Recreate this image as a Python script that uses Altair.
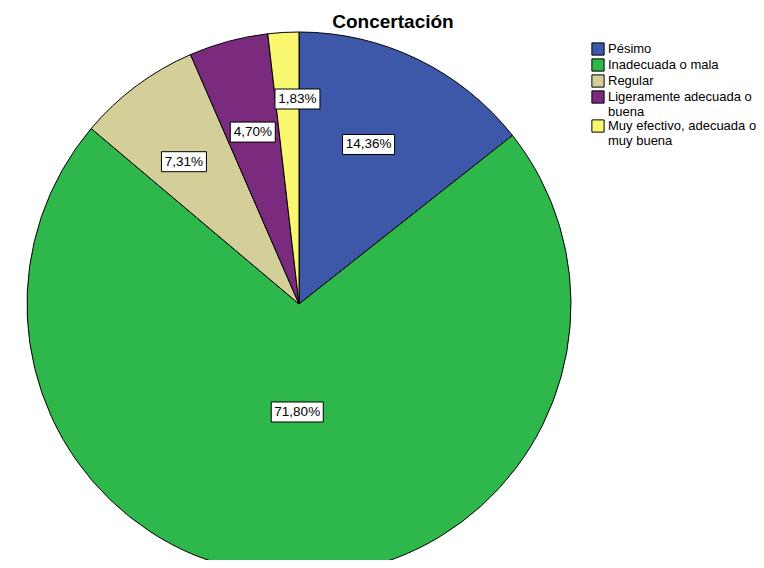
import altair as alt
import pandas as pd

categories = ["Pésimo", "Inadecuada o mala", "Regular",
              "Ligeramente adecuada o buena", "Muy efectivo, adecuada o muy buena"]
percents = [14.36, 71.80, 7.31, 4.70, 1.83]
colors = ["#3D57A9", "#2EB84B", "#D4CF98", "#7B2B7E", "#FAF770"]
title_text = "Concertación"

df = pd.DataFrame({
    "cat": categories,
    "pct": percents,
    "idx": list(range(len(categories))),
    "label": [f"{v:.2f}".replace(".", ",") + "%" for v in percents],
})

# layout constants (pixels)
CX, CY, R = 291, 260, 272
label_r = ("datum.cat == 'Inadecuada o mala' ? 108 : "
           "datum.cat == 'Muy efectivo, adecuada o muy buena' ? 205 : "
           "datum.cat == 'Regular' ? 183 : "
           "datum.cat == 'Pésimo' ? 174 : 178")
label_shift = ("datum.cat == 'Pésimo' ? -0.04 : "
               "datum.cat == 'Muy efectivo, adecuada o muy buena' ? 0.05 : "
               "datum.cat == 'Regular' ? -0.04 : 0")

base = alt.Chart(df)

arc = base.mark_arc(radius=R, stroke="black", strokeWidth=1).encode(
    theta=alt.Theta("pct:Q", stack=True),
    order=alt.Order("idx:Q"),
    x=alt.value(CX),
    y=alt.value(CY),
    color=alt.Color(
        "cat:N",
        sort=categories,
        scale=alt.Scale(domain=categories, range=colors),
        legend=alt.Legend(
            title=None, orient="none", legendX=583, legendY=-2,
            symbolType="square", symbolSize=150, symbolStrokeColor="black",
            symbolStrokeWidth=1, symbolOpacity=1, labelFont="Liberation Sans",
            labelFontSize=13, labelColor="black", labelOffset=3, rowPadding=-3,
            padding=0, labelLimit=300,
            labelExpr=("datum.label == 'Ligeramente adecuada o buena' ? "
                       "['Ligeramente adecuada o', 'buena'] : "
                       "datum.label == 'Muy efectivo, adecuada o muy buena' ? "
                       "['Muy efectivo, adecuada o', 'muy buena'] : datum.label"),
        ),
    ),
)

pos = base.transform_window(
    cum="sum(pct)", sort=[alt.SortField("idx")], frame=[None, 0]
).transform_calculate(
    mid=f"(datum.cum - datum.pct/2) / 100 * 2 * PI + ({label_shift})",
    lr=label_r,
).transform_calculate(
    lx=f"{CX} + datum.lr * sin(datum.mid)",
    ly=f"{CY} - datum.lr * cos(datum.mid)",
    bw="7 * length(datum.label) + 10",
).transform_calculate(
    x0="datum.lx - datum.bw/2", x1="datum.lx + datum.bw/2",
    y0="datum.ly - 10", y1="datum.ly + 10",
)

boxes = pos.mark_rect(fill="white", stroke="black", strokeWidth=1).encode(
    x=alt.X("x0:Q", scale=None), x2="x1:Q",
    y=alt.Y("y0:Q", scale=None), y2="y1:Q",
)

texts = pos.mark_text(font="Liberation Sans", fontSize=13.5, color="black",
                      baseline="middle", align="center").encode(
    x=alt.X("lx:Q", scale=None),
    y=alt.Y("ly:Q", scale=None),
    text="label:N",
)

title = alt.Chart(alt.Data(values=[{"t": title_text}])).mark_text(
    font="Liberation Sans", fontSize=19, fontWeight="bold", color="black",
    align="center", baseline="alphabetic",
).encode(x=alt.value(385), y=alt.value(-16), text="t:N")

chart = alt.layer(arc, boxes, texts, title).properties(
    width=748, height=516,
    padding={"left": 0, "top": 36, "right": 0, "bottom": 0},
    autosize=alt.AutoSizeParams(type="none"),
).configure_view(stroke=None)

chart.save("out.html", embed_options={"renderer": "svg", "actions": False})
